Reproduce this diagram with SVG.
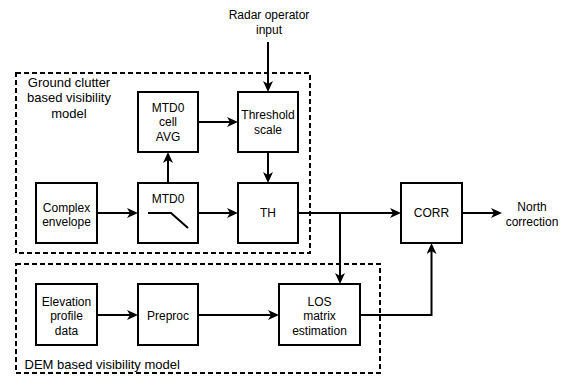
<svg xmlns="http://www.w3.org/2000/svg" width="567" height="378" viewBox="0 0 567 378">
<defs>
<style>
.box{fill:#fff;stroke:#000;stroke-width:2}
.grp{fill:none;stroke:#000;stroke-width:2;stroke-dasharray:5 3}
.ln{fill:none;stroke:#000;stroke-width:2}
.t{font-family:"Liberation Sans",Arial,sans-serif;font-size:12px;fill:#000;text-anchor:middle}
.lbl{font-family:"Liberation Sans",Arial,sans-serif;font-size:13px;fill:#000}
</style>
<marker id="arr" viewBox="0 0 11 10" refX="3" refY="5" markerWidth="11" markerHeight="10" markerUnits="userSpaceOnUse" orient="auto">
<path d="M0,0 L11,5 L0,10 L3,5 Z" fill="#000"/>
</marker>
</defs>
<rect width="567" height="378" fill="#fff"/>
<g id="group-ground">
<rect class="grp" x="16" y="73" width="294" height="180"/>
<text class="lbl" x="69" y="86.5" text-anchor="middle">Ground clutter</text>
<text class="lbl" x="69" y="102" text-anchor="middle">based visibility</text>
<text class="lbl" x="69" y="117.5" text-anchor="middle">model</text>
</g>
<g id="group-dem">
<rect class="grp" x="16" y="264" width="364" height="109"/>
<text class="lbl" x="24.5" y="369">DEM based visibility model</text>
</g>
<g id="radar-input">
<text class="t" x="269" y="19">Radar operator</text>
<text class="t" x="269" y="33.5">input</text>
</g>
<g id="north-correction">
<text class="t" x="532" y="211.3">North</text>
<text class="t" x="532" y="225.7">correction</text>
</g>
<g id="mtd0-cell-avg">
<rect class="box" x="138" y="92" width="60" height="60"/>
<text class="t" x="168" y="112">MTD0</text>
<text class="t" x="168" y="126.4">cell</text>
<text class="t" x="168" y="140.8">AVG</text>
</g>
<g id="threshold-scale">
<rect class="box" x="238" y="92" width="60" height="60"/>
<text class="t" x="268" y="119.2">Threshold</text>
<text class="t" x="268" y="133.6">scale</text>
</g>
<g id="complex-envelope">
<rect class="box" x="36" y="183" width="61" height="60"/>
<text class="t" x="66.5" y="211.5">Complex</text>
<text class="t" x="66.5" y="225.9">envelope</text>
</g>
<g id="mtd0">
<rect class="box" x="138" y="183" width="60" height="60"/>
<text class="t" x="168" y="202.5">MTD0</text>
<path class="ln" d="M148,213 H171 L188,228"/>
</g>
<g id="th">
<rect class="box" x="238" y="183" width="60" height="60"/>
<text class="t" x="268" y="217.3">TH</text>
</g>
<g id="corr">
<rect class="box" x="401" y="183" width="61" height="60"/>
<text class="t" x="431.5" y="217.3">CORR</text>
</g>
<g id="elevation-profile-data">
<rect class="box" x="36" y="284" width="61" height="61"/>
<text class="t" x="66.5" y="306">Elevation</text>
<text class="t" x="66.5" y="320.4">profile</text>
<text class="t" x="66.5" y="334.8">data</text>
</g>
<g id="preproc">
<rect class="box" x="138" y="284" width="60" height="61"/>
<text class="t" x="168" y="319.6">Preproc</text>
</g>
<g id="los-matrix-estimation">
<rect class="box" x="279" y="284" width="81" height="61"/>
<text class="t" x="319.5" y="306">LOS</text>
<text class="t" x="319.5" y="320.4">matrix</text>
<text class="t" x="319.5" y="334.8">estimation</text>
</g>
<g id="connectors">
<path class="ln" d="M268,42 V84" marker-end="url(#arr)"/>
<path class="ln" d="M198,122 H230" marker-end="url(#arr)"/>
<path class="ln" d="M268,152 V175" marker-end="url(#arr)"/>
<path class="ln" d="M168,183 V160" marker-end="url(#arr)"/>
<path class="ln" d="M97,213 H130" marker-end="url(#arr)"/>
<path class="ln" d="M198,213 H230" marker-end="url(#arr)"/>
<path class="ln" d="M298,213 H393" marker-end="url(#arr)"/>
<path class="ln" d="M340,213 V276" marker-end="url(#arr)"/>
<path class="ln" d="M462,213 H494" marker-end="url(#arr)"/>
<path class="ln" d="M97,315 H130" marker-end="url(#arr)"/>
<path class="ln" d="M198,315 H271" marker-end="url(#arr)"/>
<path class="ln" d="M360,315 H431.5 V251" marker-end="url(#arr)"/>
</g>
</svg>
